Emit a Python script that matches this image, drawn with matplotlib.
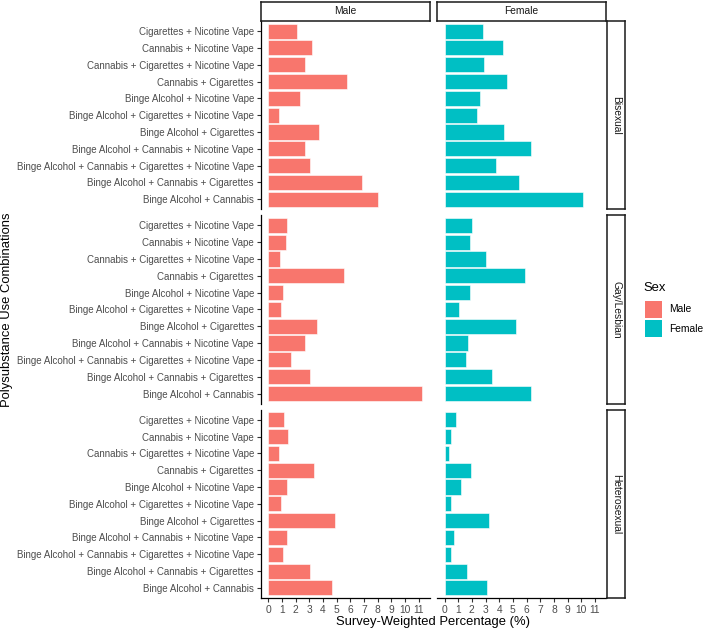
import matplotlib
matplotlib.use("Agg")
import matplotlib.pyplot as plt
from matplotlib.patches import Rectangle

plt.rcParams['font.family'] = ['Liberation Sans', 'DejaVu Sans']

categories = [
    "Cigarettes + Nicotine Vape",
    "Cannabis + Nicotine Vape",
    "Cannabis + Cigarettes + Nicotine Vape",
    "Cannabis + Cigarettes",
    "Binge Alcohol + Nicotine Vape",
    "Binge Alcohol + Cigarettes + Nicotine Vape",
    "Binge Alcohol + Cigarettes",
    "Binge Alcohol + Cannabis + Nicotine Vape",
    "Binge Alcohol + Cannabis + Cigarettes + Nicotine Vape",
    "Binge Alcohol + Cannabis + Cigarettes",
    "Binge Alcohol + Cannabis",
]
sexes = ["Male", "Female"]
orientations = ["Bisexual", "Gay/Lesbian", "Heterosexual"]

male_bisexual = [2.09, 3.19, 2.65, 5.77, 2.29, 0.75, 3.72, 2.65, 3.04, 6.86, 8.05]
female_bisexual = [2.78, 4.31, 2.86, 4.60, 2.62, 2.37, 4.38, 6.32, 3.75, 5.45, 10.12]
male_gay = [1.39, 1.29, 0.88, 5.55, 1.07, 0.92, 3.58, 2.68, 1.63, 3.02, 11.27]
female_gay = [1.99, 1.86, 3.03, 5.91, 1.89, 1.09, 5.21, 1.74, 1.55, 3.49, 6.32]
male_hetero = [1.12, 1.46, 0.80, 3.31, 1.39, 0.92, 4.89, 1.39, 1.07, 3.04, 4.67]
female_hetero = [0.87, 0.48, 0.34, 1.91, 1.19, 0.51, 3.22, 0.68, 0.48, 1.65, 3.10]

values = {
    ("Bisexual", "Male"): male_bisexual,
    ("Bisexual", "Female"): female_bisexual,
    ("Gay/Lesbian", "Male"): male_gay,
    ("Gay/Lesbian", "Female"): female_gay,
    ("Heterosexual", "Male"): male_hetero,
    ("Heterosexual", "Female"): female_hetero,
}
colors = {"Male": "#F8766D", "Female": "#00BFC4"}
xticks = list(range(0, 12))

W, H = 703, 630
fig = plt.figure(figsize=(W / 100, H / 100), dpi=100)

def fr(x0, y0, w, h):
    return [x0 / W, 1 - (y0 + h) / H, w / W, h / H]

col_x = [260.6, 436.8]
col_w = 169.5
row_y = [21.0, 215.2, 409.6]
row_h = 188.4

allmax = max(max(v) for v in values.values())
xlo, xhi = -0.05 * allmax, allmax * 1.05

tick_color = "#333333"
text_color = "#4D4D4D"
fs = 7.0
n = len(categories)
ypos = list(range(n))

for r, ori in enumerate(orientations):
    for c, sex in enumerate(sexes):
        ax = fig.add_axes(fr(col_x[c], row_y[r], col_w, row_h))
        ax.barh(ypos, values[(ori, sex)], height=0.9, color=colors[sex],
                edgecolor="white", linewidth=0.4)
        ax.set_xlim(xlo, xhi)
        ax.set_ylim(n - 1 + 0.6, -0.6)
        for s in ["top", "right"]:
            ax.spines[s].set_visible(False)
        ax.spines["left"].set_visible(c == 0)
        ax.spines["bottom"].set_visible(r == len(orientations) - 1)
        ax.spines["left"].set_linewidth(0.9)
        ax.spines["bottom"].set_linewidth(0.9)
        ax.spines["left"].set_color("black")
        ax.spines["bottom"].set_color("black")
        ax.set_yticks(ypos)
        if c == 0:
            ax.set_yticklabels(categories, fontsize=fs, color=text_color)
            ax.tick_params(axis="y", length=2.8, width=0.8, color=tick_color, pad=2)
        else:
            ax.tick_params(axis="y", left=False, labelleft=False)
        ax.set_xticks(xticks)
        if r == len(orientations) - 1:
            ax.set_xticklabels([str(t) for t in xticks], fontsize=7.4, color=text_color)
            ax.tick_params(axis="x", length=2.8, width=0.8, color=tick_color, pad=2)
        else:
            ax.tick_params(axis="x", bottom=False, labelbottom=False)
        ax.set_facecolor("white")

# top strips
for c, sex in enumerate(sexes):
    sax = fig.add_axes(fr(col_x[c], 1.5, col_w, 19.0))
    sax.set_xticks([]); sax.set_yticks([])
    for s in sax.spines.values():
        s.set_linewidth(1.1); s.set_color("#1A1A1A")
    sax.text(0.5, 0.5, sex, ha="center", va="center", fontsize=7.4, color="#1A1A1A",
             transform=sax.transAxes)

# right strips
for r, ori in enumerate(orientations):
    sax = fig.add_axes(fr(607.0, row_y[r], 18.0, row_h))
    sax.set_xticks([]); sax.set_yticks([])
    for s in sax.spines.values():
        s.set_linewidth(1.1); s.set_color("#1A1A1A")
    sax.text(0.5, 0.5, ori, ha="center", va="center", fontsize=7.4, color="#1A1A1A",
             rotation=-90, transform=sax.transAxes)

# axis titles
fig.text((col_x[0] + col_x[1] + col_w) / 2 / W, 1 - 622 / H,
         "Survey-Weighted Percentage (%)", ha="center", va="center", fontsize=9.4)
fig.text(7 / W, 1 - 310 / H, "Polysubstance Use Combinations", ha="center",
         va="center", rotation=90, fontsize=9.4)

# legend
fig.text(643 / W, 1 - 288 / H, "Sex", ha="left", va="center", fontsize=9.4)
for i, sex in enumerate(sexes):
    y0 = 300.5 + i * 19.5
    fig.patches.append(Rectangle((645 / W, 1 - (y0 + 17) / H), 17 / W, 17 / H,
                                 transform=fig.transFigure, facecolor=colors[sex],
                                 edgecolor="none"))
    fig.text(669 / W, 1 - (y0 + 8.5) / H, sex, ha="left", va="center", fontsize=7.4)

fig.savefig("out.png", dpi=100, facecolor="white")
